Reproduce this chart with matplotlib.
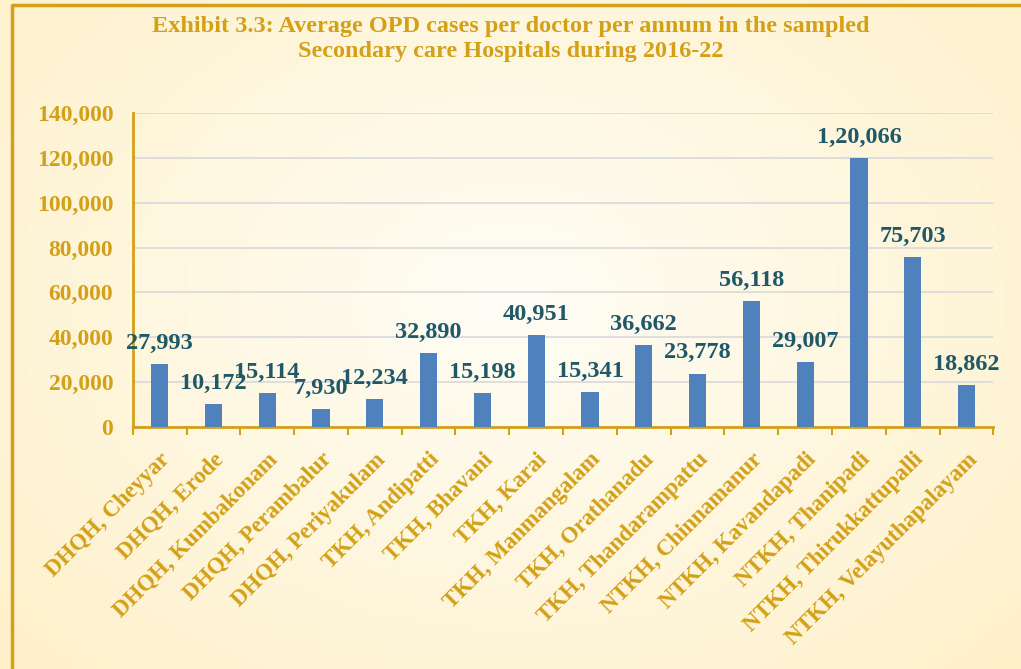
import numpy as np
import matplotlib.pyplot as plt
from matplotlib.ticker import FuncFormatter, FixedLocator

hospitals = ['DHQH, Cheyyar', 'DHQH, Erode', 'DHQH, Kumbakonam', 'DHQH, Perambalur',
             'DHQH, Periyakulam', 'TKH, Andipatti', 'TKH, Bhavani', 'TKH, Karai',
             'TKH, Manmangalam', 'TKH, Orathanadu', 'TKH, Thandarampattu',
             'NTKH, Chinnamanur', 'NTKH, Kavandapadi', 'NTKH, Thanipadi',
             'NTKH, Thirukkattupalli', 'NTKH, Velayuthapalayam']
opd_cases = [27993, 10172, 15114, 7930, 12234, 32890, 15198, 40951,
             15341, 36662, 23778, 56118, 29007, 120066, 75703, 18862]

gold = '#D4A017'
teal = '#215868'
bar_col = '#4F81BD'
plt.rcParams['font.family'] = ['Liberation Serif', 'DejaVu Serif']
plt.rcParams['font.weight'] = 'bold'


def indian(v):
    s = str(int(v))
    if len(s) <= 3:
        return s
    head, tail = s[:-3], s[-3:]
    parts = []
    while len(head) > 2:
        parts.insert(0, head[-2:])
        head = head[:-2]
    if head:
        parts.insert(0, head)
    return ','.join(parts + [tail])


def western(v, pos=None):
    return '{:,.0f}'.format(v)


fig = plt.figure(figsize=(10.21, 6.69), dpi=100)

# cream background with a lighter centre
bg = fig.add_axes([0, 0, 1, 1], zorder=-10)
yy, xx = np.mgrid[0:1:200j, 0:1:300j]
r = np.sqrt(((xx - 0.5) / 0.7) ** 2 + ((yy - 0.55) / 0.8) ** 2)
r = np.clip(r, 0, 1)
c0 = np.array([255, 253, 246]) / 255
c1 = np.array([254, 240, 200]) / 255
img = c0[None, None, :] * (1 - r[..., None]) + c1[None, None, :] * r[..., None]
bg.imshow(img, extent=[0, 1, 0, 1], aspect='auto', origin='lower')
bg.plot([0.0115, 0.0115, 1.0], [0.0, 0.993, 0.993], color=gold, lw=2.5)
bg.set_xlim(0, 1)
bg.set_ylim(0, 1)
bg.axis('off')

ax = fig.add_axes([0.130, 0.362, 0.843, 0.469])
ax.patch.set_alpha(0)
x = np.arange(len(hospitals))
ax.bar(x, opd_cases, width=0.32, color=bar_col, zorder=3)

for xi, v in zip(x, opd_cases):
    ax.text(xi, v + 4500, indian(v), ha='center', va='bottom', fontsize=17.5,
            fontweight='bold', color=teal, zorder=4)

ax.set_xlim(-0.5, len(hospitals) - 0.5)
ax.set_ylim(0, 140000)
ax.set_yticks(np.arange(0, 140001, 20000))
ax.yaxis.set_major_formatter(FuncFormatter(western))
ax.grid(axis='y', color='#D9D9D9', lw=1.2, zorder=0)

ax.set_xticks(x)
ax.set_xticklabels(hospitals, rotation=45, ha='right', rotation_mode='anchor',
                   fontsize=16.5, fontweight='bold', color=gold)
ax.tick_params(axis='x', which='major', length=0, pad=16)
ax.xaxis.set_minor_locator(FixedLocator(np.arange(-0.5, len(hospitals), 1)))
ax.tick_params(axis='x', which='minor', length=6, width=1.5, color=gold)
ax.tick_params(axis='y', length=0, labelsize=17, labelcolor=gold, pad=14)
for lab in ax.get_yticklabels():
    lab.set_fontweight('bold')

for side in ['top', 'right']:
    ax.spines[side].set_visible(False)
for side in ['left', 'bottom']:
    ax.spines[side].set_color(gold)
    ax.spines[side].set_linewidth(2)

fig.text(0.5, 0.941, 'Exhibit 3.3: Average OPD cases per doctor per annum in the sampled\n'
         'Secondary care Hospitals during 2016-22', ha='center', va='center',
         fontsize=17.5, fontweight='bold', color=gold, linespacing=1.25)

fig.savefig('out.png', dpi=100)
